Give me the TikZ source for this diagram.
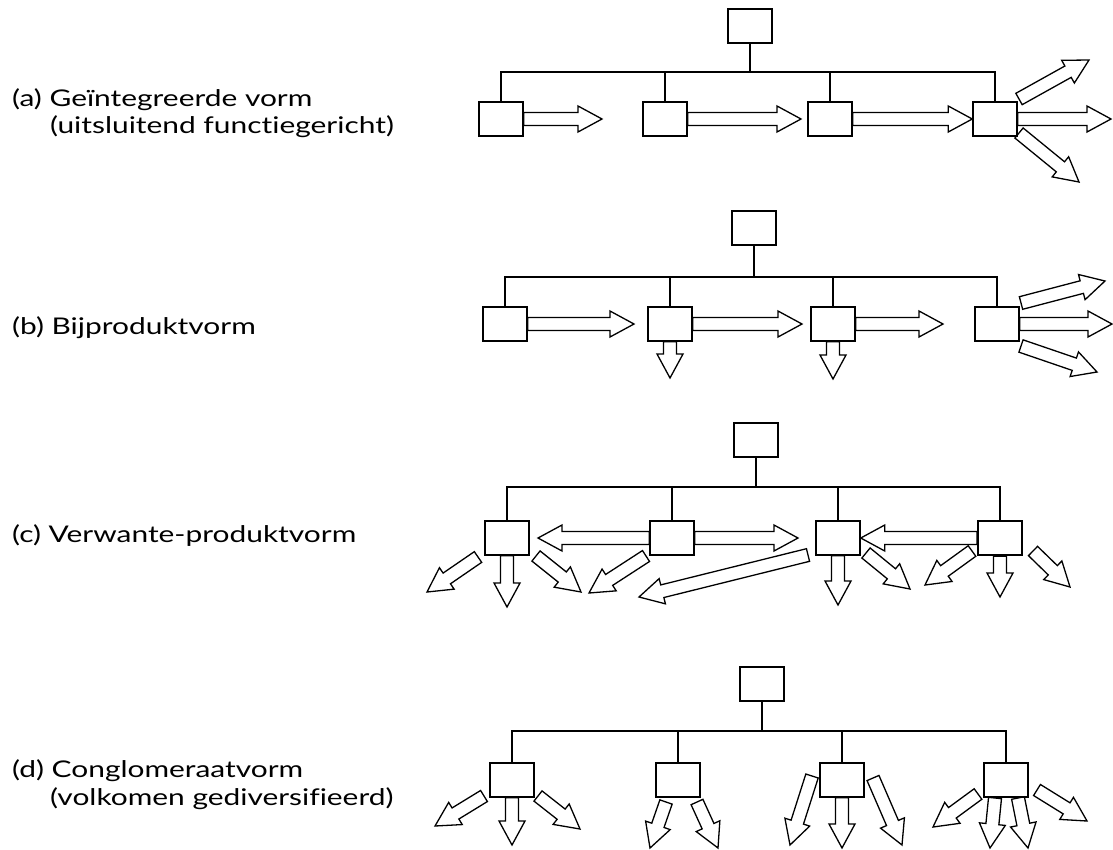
\documentclass[tikz,border=0pt]{standalone}
\usepackage{fontspec}
\setmainfont{Lato}[FakeStretch=1.3, Ligatures=NoCommon]
\usetikzlibrary{calc,positioning}

\begin{document}
\begin{tikzpicture}[
		x = 1pt, y = -1pt, % pixel grid, y runs down
		box/.style = {draw, line width=1.5pt, minimum width=44pt, minimum height=34pt, inner sep=0pt},
		bus/.style = {line width=2.9pt},
		lbl/.style = {anchor=base west, inner sep=0pt, font=\fontsize{23}{27}\selectfont},
		hollow/.style = {fill=white, line width=1.3pt, line join=miter,
			to path={
				($(\tikztostart)!6.5pt!90:(\tikztotarget)$)
				-- ($($(\tikztotarget)!24pt!(\tikztostart)$)!6.5pt!90:(\tikztotarget)$)
				-- ($($(\tikztotarget)!24pt!(\tikztostart)$)!13pt!90:(\tikztotarget)$)
				-- (\tikztotarget)
				-- ($($(\tikztotarget)!24pt!(\tikztostart)$)!13pt!-90:(\tikztotarget)$)
				-- ($($(\tikztotarget)!24pt!(\tikztostart)$)!6.5pt!-90:(\tikztotarget)$)
				-- ($(\tikztostart)!6.5pt!-90:(\tikztotarget)$)
				-- cycle}}
		]
		\useasboundingbox (0,0) rectangle (1113,849);
		
		% (a) integrated form
		\node[lbl] (la) at (12,106) {(a) Geïntegreerde vorm};
		\node[lbl] (la2) at (50,133) {(uitsluitend functiegericht)};
		\node[box] (aT) at (750,26) {};
		\node[box] (a1) at (501,119) {};
		\node[box] (a2) at (665,119) {};
		\node[box] (a3) at (830,119) {};
		\node[box] (a4) at (995,119) {};
		\coordinate (aBus) at (750,72);
		\draw[bus] (aT) -- (aBus);
		\draw[bus] (a1.north) -- (a1.north |- aBus) -- (a4.north |- aBus) -- (a4.north);
		\draw[bus] (a2.north) -- (a2.north |- aBus) (a3.north) -- (a3.north |- aBus);
		\coordinate (aE1) at (602,119);
		\coordinate (aE2) at (801,119);
		\coordinate (aS1) at (1019,99);
		\coordinate (aE3) at (1089,60);
		\coordinate (aE4) at (1111,119);
		\coordinate (aS2) at (1019,133);
		\coordinate (aE5) at (1079,182);
		\path[hollow] 
		(a1.east) edge (aE1)
		(a2.east) edge (aE2)
		(a3.east) edge (a4.west)
		(aS1) edge (aE3)
		(a4.east) edge (aE4)
		(aS2) edge (aE5);
		
		% (b) by-product form
		\node[lbl] (lb) at (12,334) {(b) Bijproduktvorm};
		\node[box] (bT) at (754,228) {};
		\node[box] (b1) at (505,324) {};
		\node[box] (b2) at (670,324) {};
		\node[box] (b3) at (833,324) {};
		\node[box] (b4) at (997,324) {};
		\coordinate (bBus) at (754,277);
		\draw[bus] (bT) -- (bBus);
		\draw[bus] (b1.north) -- (b1.north |- bBus) -- (b4.north |- bBus) -- (b4.north);
		\draw[bus] (b2.north) -- (b2.north |- bBus) (b3.north) -- (b3.north |- bBus);
		\coordinate (bE1) at (634,324);
		\coordinate (bE2) at (802,324);
		\coordinate (bD2) at (670,378);
		\coordinate (bE3) at (943,324);
		\coordinate (bD3) at (833,379);
		\coordinate (bS1) at (1021,303);
		\coordinate (bE4) at (1105,281);
		\coordinate (bE5) at (1112,324);
		\coordinate (bS2) at (1021,346);
		\coordinate (bE6) at (1097,372);
		\path[hollow] 
		(b1.east) edge (bE1)
		(b2.east) edge (bE2)
		(b2.south) edge (bD2)
		(b3.east) edge (bE3)
		(b3.south) edge (bD3)
		(bS1) edge (bE4)
		(b4.east) edge (bE5)
		(bS2) edge (bE6);
		
		% (c) related-product form
		\node[lbl] (lc) at (12,542) {(c) Verwante-produktvorm};
		\node[box] (cT) at (756,440) {};
		\node[box] (c1) at (507,538) {};
		\node[box] (c2) at (672,538) {};
		\node[box] (c3) at (838,538) {};
		\node[box, line width=2.2pt] (c4) at (1000,538) {};
		\coordinate (cBus) at (756,487);
		\draw[bus] (cT) -- (cBus);
		\draw[bus] (c1.north) -- (c1.north |- cBus) -- (c4.north |- cBus) -- (c4.north);
		\draw[bus] (c2.north) -- (c2.north |- cBus) (c3.north) -- (c3.north |- cBus);
		\coordinate (cW2) at (538,538);
		\coordinate (cE2) at (798,538);
		\coordinate (cS1) at (478,557);
		\coordinate (cE1) at (427,592);
		\coordinate (cD1) at (507,607);
		\coordinate (cS2) at (536,556);
		\coordinate (cE3) at (581,592);
		\coordinate (cS3) at (646,556);
		\coordinate (cE4) at (589,593);
		\coordinate (cS4) at (808,555);
		\coordinate (cE5) at (639,597);
		\coordinate (cD3) at (838,605);
		\coordinate (cS5) at (866,553);
		\coordinate (cE6) at (910,589);
		\coordinate (cS6) at (972,551);
		\coordinate (cE7) at (925,585);
		\coordinate (cD4) at (1000,597);
		\coordinate (cS7) at (1033,551);
		\coordinate (cE8) at (1070,587);
		\path[hollow] 
		(c2.west) edge (cW2)
		(c2.east) edge (cE2)
		(c4.west) edge (c3.east)
		(cS1) edge (cE1)
		(c1.south) edge (cD1)
		(cS2) edge (cE3)
		(cS3) edge (cE4)
		(cS4) edge (cE5)
		(c3.south) edge (cD3)
		(cS5) edge (cE6)
		(cS6) edge (cE7)
		(c4.south) edge (cD4)
		(cS7) edge (cE8);
		
		% (d) conglomerate form
		\node[lbl] (ld) at (12,777) {(d) Conglomeraatvorm};
		\node[lbl] (ld2) at (50,805) {(volkomen gediversifieerd)};
		\node[box] (dT) at (762,684) {};
		\node[box] (d1) at (512,780) {};
		\node[box] (d2) at (678,780) {};
		\node[box] (d3) at (842,780) {};
		\node[box] (d4) at (1006,780) {};
		\coordinate (dBus) at (762,731);
		\draw[bus] (dT) -- (dBus);
		\draw[bus] (d1.north) -- (d1.north |- dBus) -- (d4.north |- dBus) -- (d4.north);
		\draw[bus] (d2.north) -- (d2.north |- dBus) (d3.north) -- (d3.north |- dBus);
		\coordinate (dS1) at (484,796);
		\coordinate (dE1) at (435,826);
		\coordinate (dD1) at (512,845);
		\coordinate (dS2) at (538,796);
		\coordinate (dE2) at (580,829);
		\coordinate (dS3) at (666,802);
		\coordinate (dE3) at (650,848);
		\coordinate (dS4) at (697,802);
		\coordinate (dE4) at (718,848);
		\coordinate (dS5) at (812,776);
		\coordinate (dE5) at (790,845);
		\coordinate (dD3) at (842,848);
		\coordinate (dS6) at (873,778);
		\coordinate (dE6) at (902,845);
		\coordinate (dS7) at (978,794);
		\coordinate (dE7) at (933,827);
		\coordinate (dS8) at (995,798);
		\coordinate (dE8) at (990,848);
		\coordinate (dS9) at (1018,798);
		\coordinate (dE9) at (1028,848);
		\coordinate (dS10) at (1037,790);
		\coordinate (dE10) at (1087,821);
		\path[hollow] 
		(dS1) edge (dE1)
		(d1.south) edge (dD1)
		(dS2) edge (dE2)
		(dS3) edge (dE3)
		(dS4) edge (dE4)
		(dS5) edge (dE5)
		(d3.south) edge (dD3)
		(dS6) edge (dE6)
		(dS7) edge (dE7)
		(dS8) edge (dE8)
		(dS9) edge (dE9)
		(dS10) edge (dE10);
	\end{tikzpicture}
\end{document}
